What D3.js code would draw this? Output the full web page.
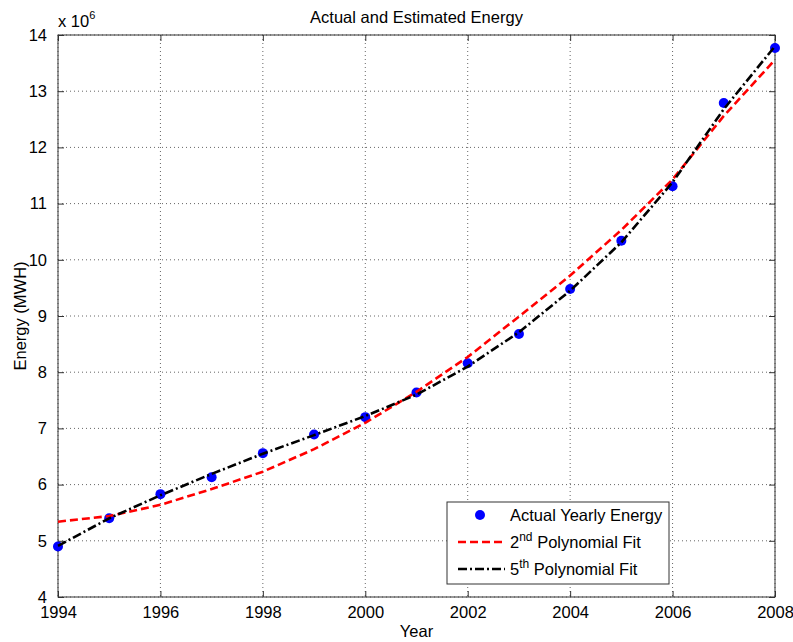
<!DOCTYPE html>
<html>
<head>
<meta charset="utf-8">
<script src="https://cdn.jsdelivr.net/npm/d3@7"></script>
<style>
  body { margin: 0; background: #fff; }
  svg { display: block; font-family: "Liberation Sans", Arial, Helvetica, sans-serif; }
</style>
</head>
<body>
<div id="chart"></div>
<script>
// Values are in units of 10^6 MWH (matches the "x 10^6" axis multiplier)
const years = [1994, 1995, 1996, 1997, 1998, 1999, 2000, 2001, 2002, 2003, 2004, 2005, 2006, 2007, 2008];
const actualEnergy = [4.90, 5.40, 5.83, 6.13, 6.56, 6.89, 7.20, 7.64, 8.16, 8.68, 9.48, 10.34, 11.31, 12.79, 13.77];
const fit2nd = [5.34, 5.44, 5.64, 5.92, 6.23, 6.63, 7.10, 7.65, 8.27, 8.99, 9.72, 10.53, 11.43, 12.56, 13.56];
const fit5th = [4.91, 5.40, 5.81, 6.19, 6.55, 6.88, 7.22, 7.60, 8.10, 8.71, 9.45, 10.31, 11.38, 12.68, 13.80];
const xTicks = [1994, 1996, 1998, 2000, 2002, 2004, 2006, 2008];
const yTicks = [4, 5, 6, 7, 8, 9, 10, 11, 12, 13, 14];

const width = 793;
const height = 642;
const margin = { top: 35, right: 18, bottom: 45, left: 58 };
const plotW = width - margin.left - margin.right;
const plotH = height - margin.top - margin.bottom;
const fontSize = '16.5px';

const x = d3.scaleLinear().domain([1994, 2008]).range([0, plotW]);
const y = d3.scaleLinear().domain([4, 14]).range([plotH, 0]);

const svg = d3.select('#chart').append('svg')
    .attr('width', width)
    .attr('height', height);

const g = svg.append('g')
    .attr('transform', `translate(${margin.left},${margin.top})`);

// grid lines (dotted, like MATLAB "grid on")
g.append('g')
    .selectAll('line')
    .data(xTicks)
    .enter().append('line')
    .attr('x1', d => x(d)).attr('x2', d => x(d))
    .attr('y1', 0).attr('y2', plotH)
    .attr('stroke', '#666')
    .attr('stroke-width', 1)
    .attr('stroke-dasharray', '1,3');

g.append('g')
    .selectAll('line')
    .data(yTicks)
    .enter().append('line')
    .attr('x1', 0).attr('x2', plotW)
    .attr('y1', d => y(d)).attr('y2', d => y(d))
    .attr('stroke', '#666')
    .attr('stroke-width', 1)
    .attr('stroke-dasharray', '1,3');

// axes with inward ticks on all sides
const tickLen = 6;
const xAxis = g.append('g')
    .attr('transform', `translate(0,${plotH})`)
    .call(d3.axisBottom(x).tickValues(xTicks).tickFormat(d3.format('d')).tickSizeInner(-tickLen).tickSizeOuter(0).tickPadding(tickLen + 3));
const yAxis = g.append('g')
    .call(d3.axisLeft(y).tickValues(yTicks).tickFormat(d3.format('d')).tickSizeInner(-tickLen).tickSizeOuter(0).tickPadding(tickLen + 5));
g.append('g')
    .call(d3.axisTop(x).tickValues(xTicks).tickFormat('').tickSizeInner(-tickLen).tickSizeOuter(0));
g.append('g')
    .attr('transform', `translate(${plotW},0)`)
    .call(d3.axisRight(y).tickValues(yTicks).tickFormat('').tickSizeInner(-tickLen).tickSizeOuter(0));

g.selectAll('.domain').remove();
g.selectAll('.tick line').attr('stroke', '#333');
[xAxis, yAxis].forEach(a => a.selectAll('text')
    .style('font-size', fontSize)
    .style('font-family', '"Liberation Sans", Arial, sans-serif')
    .attr('fill', '#000'));

// box
g.append('rect')
    .attr('width', plotW)
    .attr('height', plotH)
    .attr('fill', 'none')
    .attr('stroke', '#333')
    .attr('stroke-width', 1);

// series
const line = (vals) => d3.line()
    .x((d, i) => x(years[i]))
    .y(d => y(d))(vals);

g.selectAll('.pt')
    .data(actualEnergy)
    .enter().append('circle')
    .attr('class', 'pt')
    .attr('cx', (d, i) => x(years[i]))
    .attr('cy', d => y(d))
    .attr('r', 5)
    .attr('fill', '#0000ff');

g.append('path')
    .attr('d', line(fit2nd))
    .attr('fill', 'none')
    .attr('stroke', '#ff0000')
    .attr('stroke-width', 2.6)
    .attr('stroke-dasharray', '8,4');

g.append('path')
    .attr('d', line(fit5th))
    .attr('fill', 'none')
    .attr('stroke', '#000')
    .attr('stroke-width', 2.6)
    .attr('stroke-dasharray', '9,3,2,3');

// title and axis labels
svg.append('text')
    .attr('x', margin.left + plotW / 2)
    .attr('y', 23)
    .attr('text-anchor', 'middle')
    .style('font-size', fontSize)
    .text('Actual and Estimated Energy');

svg.append('text')
    .attr('x', margin.left + plotW / 2)
    .attr('y', 637)
    .attr('text-anchor', 'middle')
    .style('font-size', fontSize)
    .text('Year');

svg.append('text')
    .attr('transform', `translate(26,${margin.top + plotH / 2}) rotate(-90)`)
    .attr('text-anchor', 'middle')
    .style('font-size', fontSize)
    .text('Energy (MWH)');

const mult = svg.append('text')
    .attr('x', margin.left)
    .attr('y', 27)
    .style('font-size', fontSize);
mult.append('tspan').text('x 10');
mult.append('tspan').attr('dy', -8).style('font-size', '11px').text('6');

// legend
const legendX = 447;
const legendY = 502;
const legend = svg.append('g')
    .attr('transform', `translate(${legendX},${legendY})`);

legend.append('rect')
    .attr('width', 222)
    .attr('height', 82)
    .attr('fill', '#fff')
    .attr('stroke', '#333')
    .attr('stroke-width', 1);

const legendRows = [
    { label: 'Actual Yearly Energy', sup: null, rest: null, type: 'marker' },
    { label: '2', sup: 'nd', rest: ' Polynomial Fit', type: 'red' },
    { label: '5', sup: 'th', rest: ' Polynomial Fit', type: 'black' }
];

legendRows.forEach((row, i) => {
    const cy = 13 + i * 27;
    if (row.type === 'marker') {
        legend.append('circle')
            .attr('cx', 33).attr('cy', cy).attr('r', 5).attr('fill', '#0000ff');
    } else {
        legend.append('line')
            .attr('x1', 11).attr('x2', 58)
            .attr('y1', cy).attr('y2', cy)
            .attr('stroke', row.type === 'red' ? '#ff0000' : '#000')
            .attr('stroke-width', 2.6)
            .attr('stroke-dasharray', row.type === 'red' ? '8,4' : '9,3,2,3');
    }
    const t = legend.append('text')
        .attr('x', 63)
        .attr('y', cy + 6)
        .style('font-size', fontSize);
    t.append('tspan').text(row.label);
    if (row.sup) {
        t.append('tspan').attr('dy', -7).style('font-size', '12px').text(row.sup);
        t.append('tspan').attr('dy', 7).text(row.rest);
    }
});
</script>
</body>
</html>
